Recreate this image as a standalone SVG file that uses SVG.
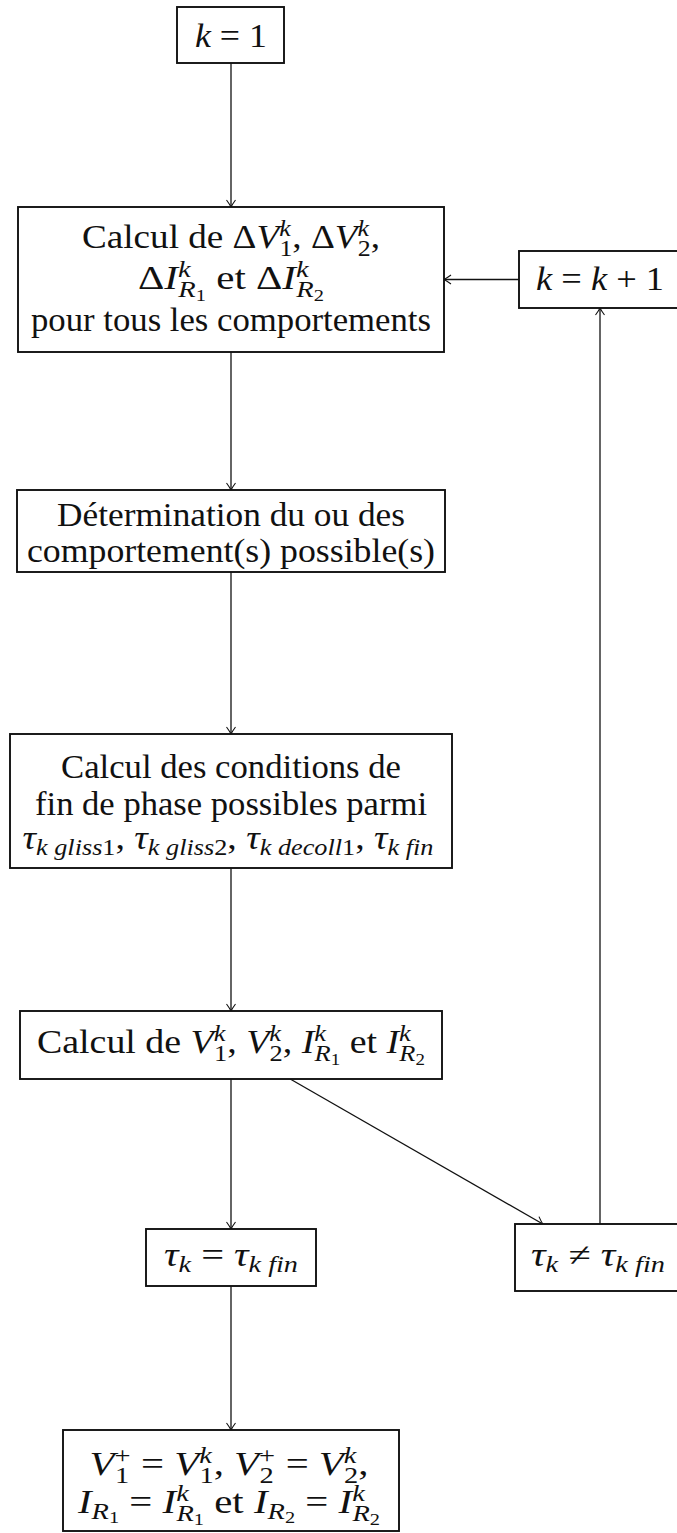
<svg xmlns="http://www.w3.org/2000/svg" width="677" height="1533" viewBox="0 0 677 1533">
<style>
.box{fill:#fff;stroke:#111;stroke-width:1.9}
.t{font-family:"Liberation Serif","DejaVu Serif",serif;font-size:33px;text-anchor:middle;fill:#111}
.i{font-style:italic}
.s{font-size:23px}
.ss{font-size:16.5px}
.c{fill:none;stroke:#111;stroke-width:1.3}
</style>
<defs>
<marker id="ah" markerUnits="userSpaceOnUse" viewBox="-9 -6 11 12" refX="0" refY="0" markerWidth="11" markerHeight="12" orient="auto" overflow="visible">
<path d="M-7,-4.5 Q-2.5,-1.2 0,0 Q-2.5,1.2 -7,4.5" fill="none" stroke="#111" stroke-width="1.1"/>
</marker>
</defs>
<rect width="677" height="1533" fill="#fff"/>
<g id="connectors">
<path class="c" d="M231,63 V207" marker-end="url(#ah)"/>
<path class="c" d="M231,352 V490" marker-end="url(#ah)"/>
<path class="c" d="M231,572 V734" marker-end="url(#ah)"/>
<path class="c" d="M231,868 V1011" marker-end="url(#ah)"/>
<path class="c" d="M231,1079 V1229" marker-end="url(#ah)"/>
<path class="c" d="M231,1286 V1430" marker-end="url(#ah)"/>
<path class="c" d="M290.2,1079 L542.8,1224" marker-end="url(#ah)"/>
<path class="c" d="M600,1224 V308" marker-end="url(#ah)"/>
<path class="c" d="M519,279.5 H444" marker-end="url(#ah)"/>
</g>
<g id="n-k1">
<rect class="box" x="177" y="7" width="107" height="56"/>
<text class="t" x="231" y="47" textLength="72" lengthAdjust="spacingAndGlyphs"><tspan class="i">k</tspan> = 1</text>
</g>
<g id="n-delta">
<rect class="box" x="18" y="207" width="426" height="145"/>
<text class="t" x="231" y="248" textLength="298" lengthAdjust="spacingAndGlyphs">Calcul de Δ<tspan class="i">V</tspan><tspan class="s i" dy="-12">k</tspan><tspan class="s" dx="-10" dy="20">1</tspan><tspan dy="-8">, Δ</tspan><tspan class="i">V</tspan><tspan class="s i" dy="-12">k</tspan><tspan class="s" dx="-10" dy="20">2</tspan><tspan dy="-8">,</tspan></text>
<text class="t" x="231" y="289" textLength="186" lengthAdjust="spacingAndGlyphs">Δ<tspan class="i">I</tspan><tspan class="s i" dy="-12">k</tspan><tspan class="s i" dx="-10" dy="20">R</tspan><tspan class="ss" dy="4">1</tspan><tspan dy="-12"> et Δ</tspan><tspan class="i">I</tspan><tspan class="s i" dy="-12">k</tspan><tspan class="s i" dx="-10" dy="20">R</tspan><tspan class="ss" dy="4">2</tspan></text>
<text class="t" x="231" y="331" textLength="400" lengthAdjust="spacingAndGlyphs">pour tous les comportements</text>
</g>
<g id="n-kinc">
<rect class="box" x="519" y="251" width="162" height="57"/>
<text class="t" x="600" y="290" textLength="128" lengthAdjust="spacingAndGlyphs"><tspan class="i">k</tspan> = <tspan class="i">k</tspan> + 1</text>
</g>
<g id="n-determ">
<rect class="box" x="17" y="490" width="428" height="82"/>
<text class="t" x="231" y="526" textLength="348" lengthAdjust="spacingAndGlyphs">Détermination du ou des</text>
<text class="t" x="231" y="562" textLength="408" lengthAdjust="spacingAndGlyphs">comportement(s) possible(s)</text>
</g>
<g id="n-cond">
<rect class="box" x="10" y="734" width="442" height="134"/>
<text class="t" x="231" y="778" textLength="340" lengthAdjust="spacingAndGlyphs">Calcul des conditions de</text>
<text class="t" x="231" y="815" textLength="392" lengthAdjust="spacingAndGlyphs">fin de phase possibles parmi</text>
<text class="t" x="228" y="849" textLength="411" lengthAdjust="spacingAndGlyphs"><tspan class="i">τ</tspan><tspan class="s i" dy="6">k gliss</tspan><tspan class="s">1</tspan><tspan dy="-6">, </tspan><tspan class="i">τ</tspan><tspan class="s i" dy="6">k gliss</tspan><tspan class="s">2</tspan><tspan dy="-6">, </tspan><tspan class="i">τ</tspan><tspan class="s i" dy="6">k decoll</tspan><tspan class="s">1</tspan><tspan dy="-6">, </tspan><tspan class="i">τ</tspan><tspan class="s i" dy="6">k fin</tspan></text>
</g>
<g id="n-calc">
<rect class="box" x="20" y="1011" width="422" height="68"/>
<text class="t" x="231" y="1053" textLength="388" lengthAdjust="spacingAndGlyphs">Calcul de <tspan class="i">V</tspan><tspan class="s i" dy="-12">k</tspan><tspan class="s" dx="-10" dy="20">1</tspan><tspan dy="-8">, </tspan><tspan class="i">V</tspan><tspan class="s i" dy="-12">k</tspan><tspan class="s" dx="-10" dy="20">2</tspan><tspan dy="-8">, </tspan><tspan class="i">I</tspan><tspan class="s i" dy="-12">k</tspan><tspan class="s i" dx="-10" dy="20">R</tspan><tspan class="ss" dy="4">1</tspan><tspan dy="-12"> et </tspan><tspan class="i">I</tspan><tspan class="s i" dy="-12">k</tspan><tspan class="s i" dx="-10" dy="20">R</tspan><tspan class="ss" dy="4">2</tspan></text>
</g>
<g id="n-eq">
<rect class="box" x="146" y="1229" width="170" height="57"/>
<text class="t" x="231" y="1266" textLength="134" lengthAdjust="spacingAndGlyphs"><tspan class="i">τ</tspan><tspan class="s i" dy="6">k</tspan><tspan dy="-6"> = </tspan><tspan class="i">τ</tspan><tspan class="s i" dy="6">k fin</tspan></text>
</g>
<g id="n-neq">
<rect class="box" x="515" y="1224" width="170" height="67"/>
<text class="t" x="598" y="1266" textLength="134" lengthAdjust="spacingAndGlyphs"><tspan class="i">τ</tspan><tspan class="s i" dy="6">k</tspan><tspan dy="-6"> ≠ </tspan><tspan class="i">τ</tspan><tspan class="s i" dy="6">k fin</tspan></text>
</g>
<g id="n-final">
<rect class="box" x="63" y="1430" width="336" height="101"/>
<text class="t" x="229" y="1475" textLength="279" lengthAdjust="spacingAndGlyphs"><tspan class="i">V</tspan><tspan class="s" dy="-12">+</tspan><tspan class="s" dx="-12.6" dy="20">1</tspan><tspan dx="1.4" dy="-8"> = </tspan><tspan class="i">V</tspan><tspan class="s i" dy="-12">k</tspan><tspan class="s" dx="-10" dy="20">1</tspan><tspan dy="-8">, </tspan><tspan class="i">V</tspan><tspan class="s" dy="-12">+</tspan><tspan class="s" dx="-12.6" dy="20">2</tspan><tspan dx="1.4" dy="-8"> = </tspan><tspan class="i">V</tspan><tspan class="s i" dy="-12">k</tspan><tspan class="s" dx="-10" dy="20">2</tspan><tspan dy="-8">,</tspan></text>
<text class="t" x="229" y="1513" textLength="302" lengthAdjust="spacingAndGlyphs"><tspan class="i">I</tspan><tspan class="s i" dy="6">R</tspan><tspan class="ss" dy="4">1</tspan><tspan dy="-10"> = </tspan><tspan class="i">I</tspan><tspan class="s i" dy="-12">k</tspan><tspan class="s i" dx="-10" dy="20">R</tspan><tspan class="ss" dy="4">1</tspan><tspan dy="-12"> et </tspan><tspan class="i">I</tspan><tspan class="s i" dy="6">R</tspan><tspan class="ss" dy="4">2</tspan><tspan dy="-10"> = </tspan><tspan class="i">I</tspan><tspan class="s i" dy="-12">k</tspan><tspan class="s i" dx="-10" dy="20">R</tspan><tspan class="ss" dy="4">2</tspan></text>
</g>
</svg>
